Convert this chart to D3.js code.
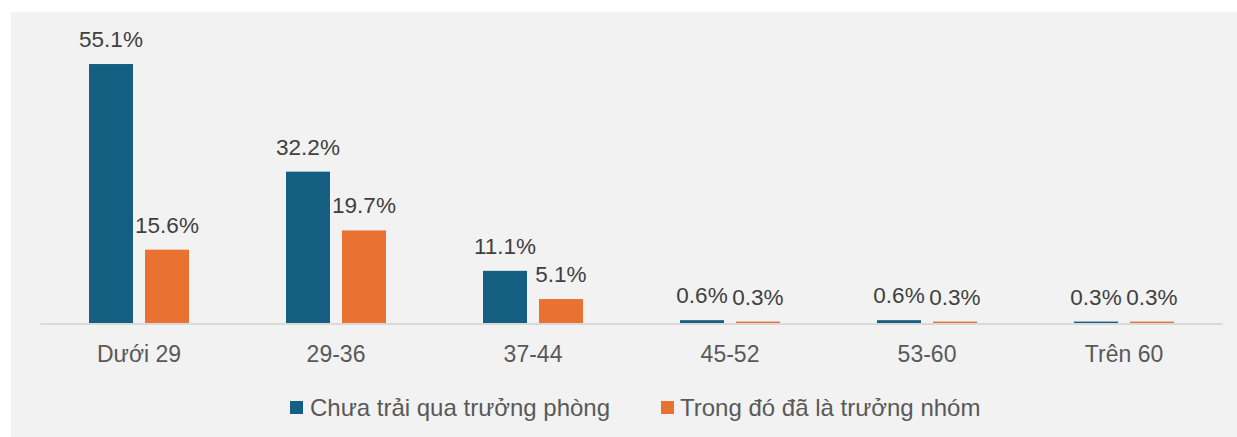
<!DOCTYPE html>
<html>
<head>
<meta charset="utf-8">
<script src="https://cdn.jsdelivr.net/npm/d3@7"></script>
<style>
  body { margin: 0; background: #ffffff; }
  svg { display: block; font-family: "Liberation Sans", Arial, sans-serif; }
</style>
</head>
<body>
<svg id="chart" width="1237" height="437"></svg>
<script>
// Data.
var categories = ['Dưới 29', '29-36', '37-44', '45-52', '53-60', 'Trên 60'];
var seriesNames = ['Chưa trải qua trưởng phòng', 'Trong đó đã là trưởng nhóm'];
var seriesColors = ['#156082', '#e97132'];
var notManager = [55.1, 32.2, 11.1, 0.6, 0.6, 0.3];
var teamLead = [15.6, 19.7, 5.1, 0.3, 0.3, 0.3];

// Constants.
var kBaseline = 323;
var kLabelGap = 17;

var svg = d3.select('#chart');

// Panel background.
svg.append('rect')
  .attr('x', 11).attr('y', 12)
  .attr('width', 1226).attr('height', 425)
  .attr('fill', '#f2f2f2');

var x0 = d3.scaleBand()
  .domain(categories)
  .range([40.5, 1222.5])
  .paddingInner(97 / 197)
  .paddingOuter(97 / 394);

var x1 = d3.scaleBand()
  .domain([0, 1])
  .range([0, x0.bandwidth()])
  .paddingInner(0.2143);

var y = d3.scaleLinear()
  .domain([0, 60])
  .range([kBaseline, kBaseline - 282]);

var rows = categories.map(function(c, i) {
  return { cat: c, values: [notManager[i], teamLead[i]] };
});

var groups = svg.selectAll('g.group')
  .data(rows)
  .enter().append('g')
  .attr('class', 'group')
  .attr('transform', function(d) { return 'translate(' + x0(d.cat) + ',0)'; });

var cells = groups.selectAll('g.cell')
  .data(function(d) {
    return d.values.map(function(v, s) { return { s: s, v: v }; });
  })
  .enter().append('g')
  .attr('class', 'cell');

cells.append('rect')
  .attr('x', function(d) { return x1(d.s); })
  .attr('width', x1.bandwidth())
  .attr('y', function(d) { return y(d.v); })
  .attr('height', function(d) { return kBaseline - y(d.v); })
  .attr('fill', function(d) { return seriesColors[d.s]; });

cells.append('text')
  .attr('x', function(d) { return x1(d.s) + x1.bandwidth() / 2; })
  .attr('y', function(d) { return y(d.v) - kLabelGap; })
  .attr('text-anchor', 'middle')
  .attr('font-size', 22.5)
  .attr('fill', '#404040')
  .text(function(d) { return d.v.toFixed(1) + '%'; });

// Axis line.
svg.append('line')
  .attr('x1', x0.range()[0]).attr('x2', x0.range()[1])
  .attr('y1', kBaseline + 1).attr('y2', kBaseline + 1)
  .attr('stroke', '#d9d9d9')
  .attr('stroke-width', 2);

// Category labels.
var xAxis = svg.append('g')
  .attr('transform', 'translate(0,' + (kBaseline + 1) + ')')
  .call(d3.axisBottom(x0).tickSize(0).tickPadding(0));
xAxis.select('.domain').remove();
xAxis.selectAll('text')
  .attr('dy', null)
  .attr('y', 38)
  .attr('font-size', 23)
  .attr('font-family', '"Liberation Sans", Arial, sans-serif')
  .attr('fill', '#595959');

// Legend.
var legendX = [290, 661];
var legend = svg.selectAll('g.legend')
  .data(seriesNames)
  .enter().append('g')
  .attr('class', 'legend')
  .attr('transform', function(d, i) { return 'translate(' + legendX[i] + ',0)'; });
legend.append('rect')
  .attr('x', 0).attr('y', 401)
  .attr('width', 13).attr('height', 13)
  .attr('fill', function(d, i) { return seriesColors[i]; });
legend.append('text')
  .attr('x', function(d, i) { return i == 0 ? 20 : 19; })
  .attr('y', 416)
  .attr('font-size', 24)
  .attr('fill', '#595959')
  .text(function(d) { return d; });
</script>
</body>
</html>
